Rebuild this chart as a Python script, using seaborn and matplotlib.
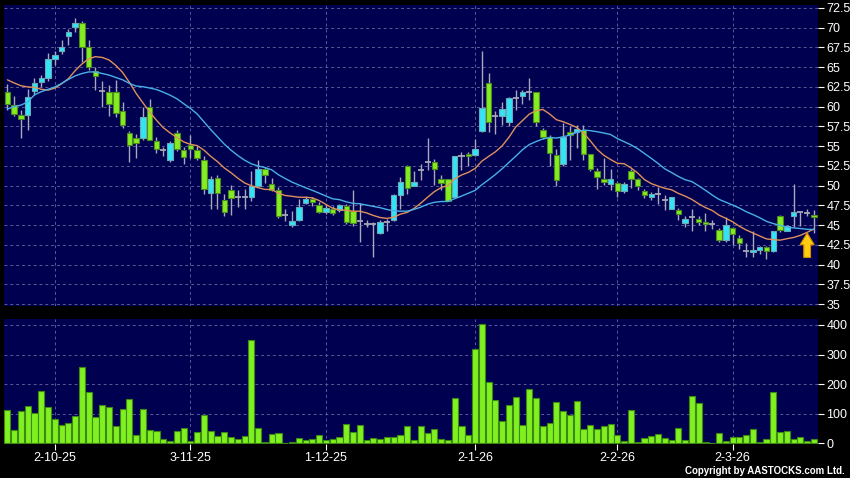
import numpy as np
import pandas as pd
import matplotlib.pyplot as plt
import seaborn as sns
from matplotlib.patches import FancyArrow

# daily OHLC (oldest first, 120 trading days)
opens = [61.9, 60.2, 59.0, 59.0, 62.0, 63.1, 63.6, 66.1, 67.0, 69.0,
         70.05, 70.6, 67.5, 64.5, 62.0, 61.9, 61.9, 59.5, 56.7, 56.0,
         56.0, 59.9, 55.7, 54.5, 53.2, 56.7, 54.5, 55.1, 54.5, 53.3,
         49.1, 51.0, 48.2, 49.5, 48.5, 48.6, 48.6, 50.0, 52.1, 50.2,
         49.5, 46.3, 44.97, 45.6, 47.8, 48.35, 47.5, 46.6, 47.0, 46.9,
         47.4, 46.8, 45.5, 45.1, 45.1, 43.95, 45.4, 45.6, 48.8, 52.5,
         50.0, 52.0, 53.0, 53.0, 50.9, 50.9, 48.6, 53.7, 54.0, 53.9,
         56.9, 63.0, 58.8, 58.8, 58.0, 61.1, 61.3, 61.9, 61.8, 57.0,
         56.2, 53.9, 52.7, 56.75, 56.75, 57.1, 54.0, 51.8, 50.9, 50.2,
         50.3, 49.3, 51.9, 50.8, 49.3, 48.5, 49.0, 48.2, 47.1, 46.9,
         45.3, 46.0, 45.8, 45.45, 45.1, 44.4, 43.1, 44.6, 43.4, 41.75,
         41.6, 41.9, 42.25, 41.7, 46.1, 44.3, 46.15, 46.6, 46.5, 46.25]
highs = [62.9, 61.3, 59.6, 62.3, 63.6, 64.0, 66.8, 67.0, 68.5, 69.9,
         71.2, 70.9, 68.4, 65.0, 63.2, 62.7, 63.4, 60.6, 56.9, 56.6,
         60.0, 61.0, 56.2, 54.9, 55.7, 57.0, 54.9, 56.4, 55.0, 53.7,
         51.2, 51.3, 49.0, 50.1, 49.4, 49.6, 51.8, 53.2, 52.4, 51.0,
         49.8, 47.0, 46.8, 48.3, 48.7, 48.6, 47.9, 47.6, 47.4, 47.7,
         47.7, 49.5, 47.8, 45.6, 45.4, 45.6, 45.8, 48.9, 51.1, 52.6,
         51.8, 52.8, 56.0, 53.4, 51.3, 50.9, 53.8, 54.2, 54.3, 55.9,
         67.0, 64.3, 59.4, 60.6, 61.2, 62.1, 62.1, 63.6, 61.8, 57.3,
         56.4, 54.6, 57.9, 57.5, 57.7, 57.7, 54.0, 52.2, 53.45, 52.05,
         50.5, 50.5, 52.1, 51.0, 49.6, 49.2, 49.8, 48.8, 48.6, 47.2,
         46.2, 47.1, 46.2, 46.5, 45.6, 44.6, 46.0, 44.8, 43.8, 42.7,
         44.2, 42.4, 42.3, 44.3, 46.3, 45.0, 50.2, 46.7, 47.0, 46.9]
lows = [59.6, 58.8, 56.0, 57.0, 61.5, 62.5, 63.2, 65.3, 66.7, 67.8,
        69.5, 65.7, 64.6, 62.1, 59.9, 58.8, 58.7, 57.3, 53.0, 53.5,
        55.8, 55.8, 54.1, 53.7, 53.0, 54.4, 52.8, 53.5, 53.2, 49.0,
        47.1, 47.0, 46.1, 46.3, 47.3, 47.1, 48.0, 49.8, 50.3, 49.3,
        45.9, 45.5, 44.8, 45.5, 47.7, 47.4, 46.5, 46.4, 46.3, 46.7,
        45.2, 44.9, 42.9, 44.7, 41.0, 43.9, 44.2, 45.5, 47.1, 48.9,
        49.9, 50.7, 52.0, 50.1, 49.5, 48.0, 48.5, 52.0, 52.5, 53.8,
        56.8, 56.8, 56.5, 57.7, 57.55, 59.6, 60.4, 60.8, 57.5, 55.9,
        52.5, 49.9, 52.5, 53.25, 54.8, 53.2, 51.8, 49.6, 50.1, 49.4,
        48.5, 49.1, 49.7, 49.4, 48.4, 48.2, 47.7, 46.9, 47.0, 45.6,
        44.8, 44.3, 45.0, 44.2, 44.5, 42.8, 42.9, 42.5, 42.0, 40.9,
        40.9, 41.4, 40.7, 41.6, 44.1, 44.2, 44.8, 44.9, 46.2, 44.0]
closes = [60.3, 59.1, 58.4, 61.2, 63.0, 63.6, 66.1, 66.6, 67.6, 69.5,
          70.6, 67.5, 65.0, 63.85, 62.0, 60.4, 59.2, 57.7, 55.1, 55.4,
          58.7, 55.8, 54.6, 54.5, 55.4, 54.6, 53.6, 54.6, 53.5, 49.6,
          50.9, 49.1, 46.6, 48.4, 48.5, 48.6, 50.0, 52.1, 51.4, 49.5,
          46.1, 46.3, 45.55, 47.25, 48.35, 47.96, 46.6, 47.2, 46.5, 47.5,
          45.4, 45.3, 45.5, 45.1, 45.1, 45.4, 45.4, 48.8, 50.4, 49.7,
          50.45, 52.0, 53.0, 52.1, 50.3, 48.1, 53.7, 53.7, 53.7, 54.6,
          59.8, 58.0, 58.8, 59.7, 61.1, 61.1, 61.9, 61.9, 58.0, 56.2,
          54.1, 50.7, 56.2, 56.4, 57.2, 54.0, 52.1, 51.05, 50.4, 50.9,
          49.3, 50.2, 50.9, 49.9, 48.8, 49.0, 49.0, 48.2, 48.5, 46.35,
          45.8, 46.0, 45.4, 45.1, 45.1, 43.1, 45.0, 43.9, 42.7, 41.75,
          41.9, 42.25, 41.7, 44.2, 44.4, 44.9, 46.6, 46.6, 46.5, 46.0]
# volume in thousands
volumes = [112, 45, 108, 126, 102, 176, 124, 81, 62, 68,
           91, 258, 175, 90, 130, 122, 59, 116, 149, 28,
           116, 45, 42, 16, 8, 43, 53, 9, 39, 97,
           43, 25, 39, 22, 15, 26, 349, 53, 5, 32,
           34, 2, 6, 18, 10, 15, 28, 10, 16, 23,
           65, 40, 61, 11, 18, 14, 20, 23, 28, 58,
           11, 59, 36, 49, 15, 12, 152, 59, 27, 319,
           402, 209, 148, 76, 130, 155, 61, 184, 152, 58,
           68, 141, 110, 97, 142, 48, 61, 50, 58, 65,
           28, 8, 114, 5, 18, 26, 32, 19, 12, 52,
           12, 160, 136, 5, 1, 35, 8, 20, 20, 27,
           48, 5, 15, 175, 39, 43, 15, 23, 8, 14]

# moving average values at the left edge (need closes from before the window)
ma10_head = [63.4, 63.0, 62.65, 62.5, 62.45, 62.2, 62.1, 62.35, 62.9]
ma20_head = [59.7, 60.0, 60.2, 60.6, 61.5, 61.9, 62.2, 62.5, 62.95, 63.45,
             63.9, 64.2, 64.4, 64.4, 64.2, 64.0, 63.7, 63.4, 62.95]

date_labels = ['2-10-25', '3-11-25', '1-12-25', '2-1-26', '2-2-26', '2-3-26']
date_pos = [7, 27, 47, 69, 90, 107]
price_ticks = [35, 37.5, 40, 42.5, 45, 47.5, 50, 52.5, 55, 57.5,
               60, 62.5, 65, 67.5, 70, 72.5]
vol_ticks = [0, 100, 200, 300, 400]

df = pd.DataFrame({'open': opens, 'high': highs, 'low': lows,
                   'close': closes, 'volume': volumes})
df['day'] = np.arange(len(df))
df['ma10'] = df['close'].rolling(10).mean()
df['ma20'] = df['close'].rolling(20).mean()
df.loc[:len(ma10_head) - 1, 'ma10'] = ma10_head
df.loc[:len(ma20_head) - 1, 'ma20'] = ma20_head

sns.set_style('dark')
plt.rcParams['font.family'] = ['Liberation Sans', 'DejaVu Sans']

panel = '#000050'
grid_col = '#5a5a96'
up_fill, up_edge = '#33e4f4', '#6aaab8'
dn_fill, dn_edge = '#84ec20', '#4a8a20'
wick_col = '#a8a8b8'

fig = plt.figure(figsize=(8.5, 4.78), dpi=100, facecolor='black')
ax = fig.add_axes([4 / 850, 1 - 306 / 478, 814 / 850, 301 / 478])
axv = fig.add_axes([4 / 850, 1 - 444 / 478, 814 / 850, 125 / 478])

# candles
up = df[df['close'] > df['open']]
dn = df[df['close'] < df['open']]
flat = df[df['close'] == df['open']]
ax.vlines(df['day'], df['low'], df['high'], color=wick_col, lw=1, zorder=2)
ax.bar(up['day'], up['close'] - up['open'], bottom=up['open'], width=0.8,
       color=up_fill, edgecolor=up_edge, linewidth=0.8, zorder=3)
ax.bar(dn['day'], dn['open'] - dn['close'], bottom=dn['close'], width=0.8,
       color=dn_fill, edgecolor=dn_edge, linewidth=0.8, zorder=3)
ax.hlines(flat['close'], flat['day'] - 0.45, flat['day'] + 0.45,
          color=wick_col, lw=1.3, zorder=3)

# moving averages
sns.lineplot(data=df, x='day', y='ma10', ax=ax, color='#e0905c', lw=1, zorder=4)
sns.lineplot(data=df, x='day', y='ma20', ax=ax, color='#48b0e8', lw=1, zorder=4)

# marker arrow under the latest bar
last = df['day'].iloc[-1]
ax.add_patch(FancyArrow(last - 1, 40.9, 0, 3.1, width=1.0, head_width=2.1,
                        head_length=1.5, length_includes_head=True,
                        facecolor='#ffcc10', edgecolor='#d08a00', lw=0.8, zorder=5))

# volume
sns.barplot(data=df, x='day', y='volume', ax=axv, native_scale=True,
            color='#80f020', saturation=1, edgecolor='#3c8a14',
            linewidth=0.8, width=0.9, zorder=3)

for a in (ax, axv):
    a.set_facecolor(panel)
    a.set_xlim(-0.5, 119.6)
    a.set_xticks(date_pos)
    a.grid(True, color=grid_col, ls=(0, (3, 3)), lw=0.7, zorder=1)
    a.yaxis.tick_right()
    a.tick_params(axis='y', colors='white', labelsize=9, length=4,
                  width=0.8, pad=2, direction='out', right=True, left=False)
    a.set_xlabel('')
    a.set_ylabel('')
    for s in a.spines.values():
        s.set_visible(False)

ax.set_ylim(34.75, 72.88)
ax.set_yticks(price_ticks)
ax.set_yticklabels(['%g' % t for t in price_ticks])
ax.tick_params(axis='x', bottom=False, labelbottom=False)

axv.set_ylim(-2, 420)
axv.set_yticks(vol_ticks)
axv.set_yticklabels([str(t) for t in vol_ticks])
axv.set_xticklabels(date_labels)
axv.tick_params(axis='x', colors='white', labelsize=9, length=4, width=0.8,
                pad=2, direction='out', bottom=True)

fig.text(0.994, 0.004, 'Copyright by AASTOCKS.com Ltd.', ha='right', va='bottom',
         color='white', fontsize=7, fontweight='bold')

fig.savefig('out.png', dpi=100, facecolor='black')
